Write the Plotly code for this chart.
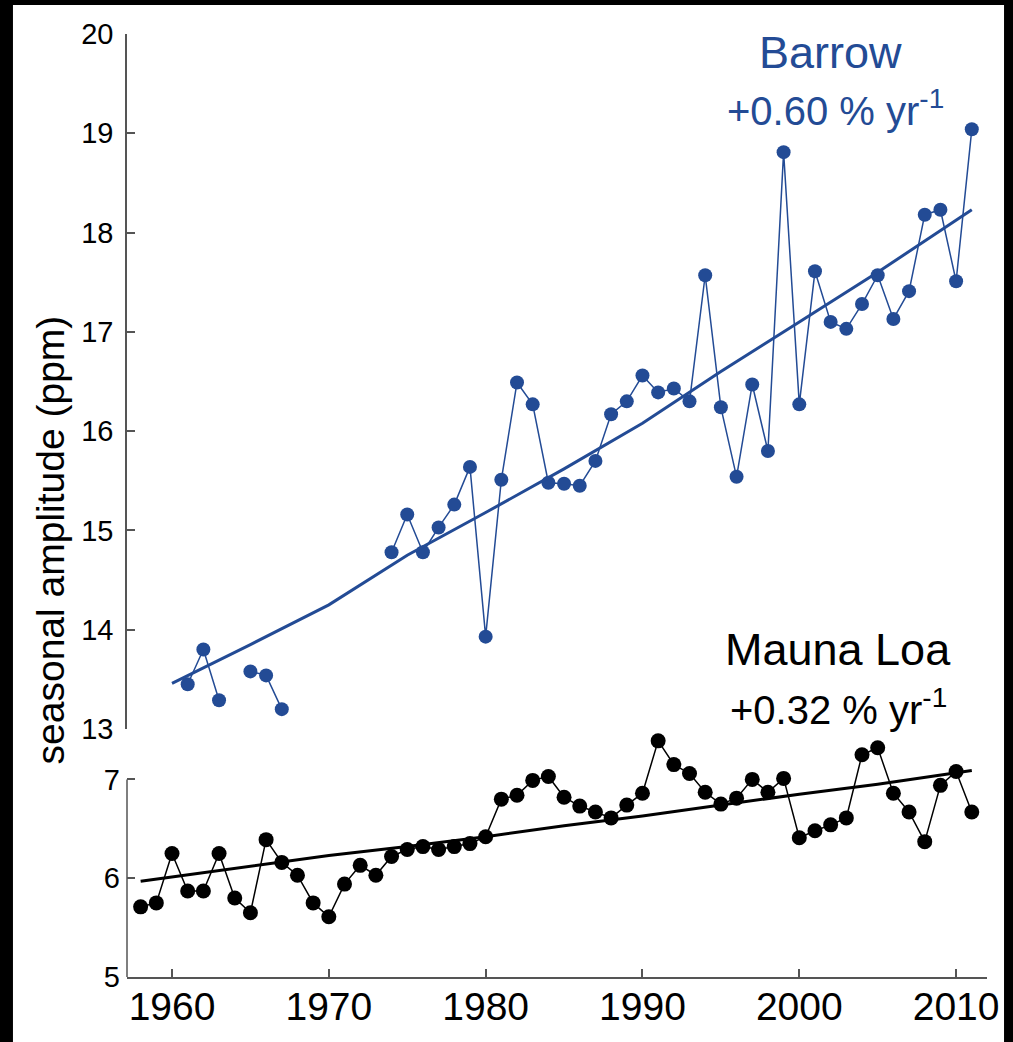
import plotly.graph_objects as go

# Barrow seasonal amplitude (ppm), None = no data
brw_years = list(range(1961, 2012))
brw_amp = [13.45, 13.80, 13.29, None, 13.58, 13.54, 13.20,
           None, None, None, None, None, None,
           14.78, 15.16, 14.78, 15.03, 15.26, 15.64, 13.93, 15.51, 16.49, 16.27,
           15.48, 15.47, 15.45, 15.70, 16.17, 16.30, 16.56, 16.39, 16.43, 16.30,
           17.57, 16.24, 15.54, 16.47, 15.80, 18.81, 16.27, 17.61, 17.10, 17.03,
           17.28, 17.57, 17.13, 17.41, 18.18, 18.23, 17.51, 19.04]

brw_fit_years = [1960, 1965, 1970, 1975, 1980, 1985, 1990, 1995, 2000, 2005, 2011]
brw_fit = [13.46, 13.85, 14.25, 14.75, 15.18, 15.62, 16.08, 16.60, 17.10, 17.60, 18.23]

# Mauna Loa seasonal amplitude (ppm)
mlo_years = list(range(1958, 2012))
mlo_amp = [5.71, 5.75, 6.25, 5.87, 5.87, 6.25, 5.80, 5.65, 6.39, 6.16,
           6.03, 5.75, 5.61, 5.94, 6.13, 6.03, 6.22, 6.29, 6.32, 6.29,
           6.32, 6.35, 6.42, 6.80, 6.84, 6.99, 7.03, 6.82, 6.73, 6.67,
           6.61, 6.74, 6.86, 7.39, 7.15, 7.06, 6.87, 6.75, 6.81, 7.00,
           6.87, 7.01, 6.41, 6.48, 6.54, 6.61, 7.25, 7.32, 6.86, 6.67,
           6.37, 6.94, 7.08, 6.67]

mlo_fit_years = [1958, 1965, 1970, 1975, 1980, 1985, 1990, 1995, 2000, 2005, 2011]
mlo_fit = [5.97, 6.12, 6.23, 6.32, 6.42, 6.53, 6.63, 6.74, 6.85, 6.95, 7.09]

BLUE = "#234b95"
AXIS = "#555555"
FONT = "Liberation Sans, Arial, Helvetica, sans-serif"

fig = go.Figure()

fig.add_trace(go.Scatter(x=brw_years, y=brw_amp, yaxis="y2", mode="lines+markers",
                         line=dict(color=BLUE, width=1.5),
                         marker=dict(color=BLUE, size=14), cliponaxis=False))
fig.add_trace(go.Scatter(x=brw_fit_years, y=brw_fit, yaxis="y2", mode="lines",
                         line=dict(color=BLUE, width=3)))
fig.add_trace(go.Scatter(x=mlo_years, y=mlo_amp, mode="lines+markers",
                         line=dict(color="black", width=1.5),
                         marker=dict(color="black", size=15), cliponaxis=False))
fig.add_trace(go.Scatter(x=mlo_fit_years, y=mlo_fit, mode="lines",
                         line=dict(color="black", width=3)))

fig.update_layout(
    width=1013, height=1042,
    margin=dict(l=127, r=26, t=34, b=65),
    paper_bgcolor="black",
    plot_bgcolor="rgba(0,0,0,0)",
    showlegend=False,
    font=dict(family=FONT, color="black"),
    xaxis=dict(range=[1957.13, 2011.97], tickvals=[1960, 1970, 1980, 1990, 2000, 2010],
               ticks="inside", ticklen=8, tickcolor=AXIS, tickwidth=1.5,
               showline=True, linecolor=AXIS, linewidth=1.5,
               showgrid=False, zeroline=False, anchor="y", automargin=False,
               tickfont=dict(size=39), ticklabelstandoff=-6),
    yaxis=dict(domain=[0, 0.2567], range=[5, 7.45], tickvals=[5, 6, 7],
               ticks="inside", ticklen=8, tickcolor=AXIS, tickwidth=1.5,
               showline=False, showgrid=False, zeroline=False, anchor="x",
               automargin=False, tickfont=dict(size=29), ticklabelstandoff=6),
    yaxis2=dict(domain=[0.263, 1], range=[13, 20], tickvals=list(range(13, 21)),
                ticks="inside", ticklen=8, tickcolor=AXIS, tickwidth=1.5,
                showline=True, linecolor=AXIS, linewidth=1.5,
                showgrid=False, zeroline=False, anchor="x",
                automargin=False, tickfont=dict(size=29), ticklabelstandoff=6),
    shapes=[
        dict(type="rect", xref="paper", yref="paper", x0=-0.1326, x1=1.0198,
             y0=-0.08, y1=1.0308, fillcolor="white", line=dict(width=0), layer="below"),
        # lower y axis line only spans 5..7
        dict(type="line", xref="paper", yref="y", x0=0, x1=0, y0=5, y1=7,
             line=dict(color=AXIS, width=1.5)),
    ],
    annotations=[
        dict(text="seasonal amplitude (ppm)", xref="paper", yref="paper",
             x=-0.0895, y=0.463, textangle=-90, showarrow=False,
             font=dict(size=39), xanchor="center", yanchor="middle"),
        dict(text="Barrow", xref="paper", yref="paper", x=0.8186, y=0.98,
             showarrow=False, font=dict(size=45, color=BLUE),
             xanchor="center", yanchor="middle"),
        dict(text="+0.60 % yr<sup>-1</sup>", xref="paper", yref="paper", x=0.8244, y=0.922,
             showarrow=False, font=dict(size=40, color=BLUE),
             xanchor="center", yanchor="middle"),
        dict(text="Mauna Loa", xref="paper", yref="paper", x=0.827, y=0.347,
             showarrow=False, font=dict(size=45, color="black"),
             xanchor="center", yanchor="middle"),
        dict(text="+0.32 % yr<sup>-1</sup>", xref="paper", yref="paper", x=0.827, y=0.286,
             showarrow=False, font=dict(size=40, color="black"),
             xanchor="center", yanchor="middle"),
    ],
)

fig.write_html("out.html", config={"displayModeBar": False},
               post_script="document.body.style.margin='0';")
